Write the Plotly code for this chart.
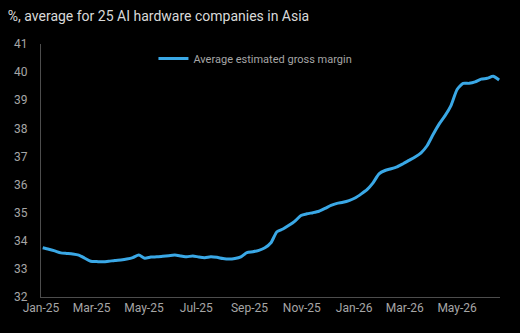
import pandas as pd
import plotly.graph_objects as go

title_text = "%, average for 25 AI hardware companies in Asia"
series_name = "Average estimated gross margin"

dates = pd.date_range("2025-01-03", periods=77, freq="7D")
gross_margin = [
    33.75, 33.70, 33.64, 33.57, 33.55, 33.53, 33.49, 33.38, 33.27, 33.26,
    33.25, 33.27, 33.30, 33.32, 33.35, 33.40, 33.49, 33.38, 33.42, 33.43,
    33.45, 33.47, 33.49, 33.46, 33.43, 33.46, 33.42, 33.40, 33.43, 33.41,
    33.37, 33.35, 33.37, 33.43, 33.58, 33.61, 33.66, 33.75, 33.93, 34.32,
    34.42, 34.55, 34.70, 34.90, 34.96, 35.00, 35.05, 35.15, 35.26, 35.33,
    35.37, 35.43, 35.52, 35.66, 35.82, 36.06, 36.38, 36.50, 36.56, 36.63,
    36.74, 36.86, 36.98, 37.13, 37.38, 37.78, 38.15, 38.45, 38.82, 39.38,
    39.60, 39.60, 39.65, 39.75, 39.78, 39.85, 39.72,
]
y_ticks = list(range(32, 42))

FONT = "Roboto, Arial, sans-serif"

fig = go.Figure()
fig.add_trace(go.Scatter(
    x=dates, y=gross_margin, mode="lines", name=series_name,
    line=dict(color="#3aa8e6", width=3, shape="spline", smoothing=0.6),
    showlegend=True,
))

fig.update_layout(
    width=520, height=333,
    paper_bgcolor="#000000", plot_bgcolor="#000000",
    margin=dict(l=41, r=20, t=44, b=36),
    font=dict(family=FONT, color="#a6a6a6", size=12),
    title=dict(text=title_text, x=0.015, xanchor="left", y=0.952, yanchor="middle",
               font=dict(family=FONT, size=14, color="#d9d9d9")),
    showlegend=True,
    legend=dict(x=0.245, y=1.0, xanchor="left", yanchor="top",
                bgcolor="rgba(0,0,0,0)", font=dict(size=11, color="#a6a6a6"),
                itemwidth=30),
    xaxis=dict(
        type="date", range=["2025-01-01", "2026-06-20"],
        tickformat="%b-%y", dtick="M2", tick0="2025-01-01",
        showgrid=False, zeroline=False, showline=True, linecolor="#4d4d4d", linewidth=1,
        ticks="", tickfont=dict(size=12, color="#a6a6a6"),
    ),
    yaxis=dict(
        range=[32, 41], tickvals=y_ticks, showgrid=False, zeroline=False,
        showline=True, linecolor="#4d4d4d", linewidth=1, ticks="",
        tickfont=dict(size=12, color="#a6a6a6"), ticklabelstandoff=10,
    ),
)

fig.write_html("out.html")
